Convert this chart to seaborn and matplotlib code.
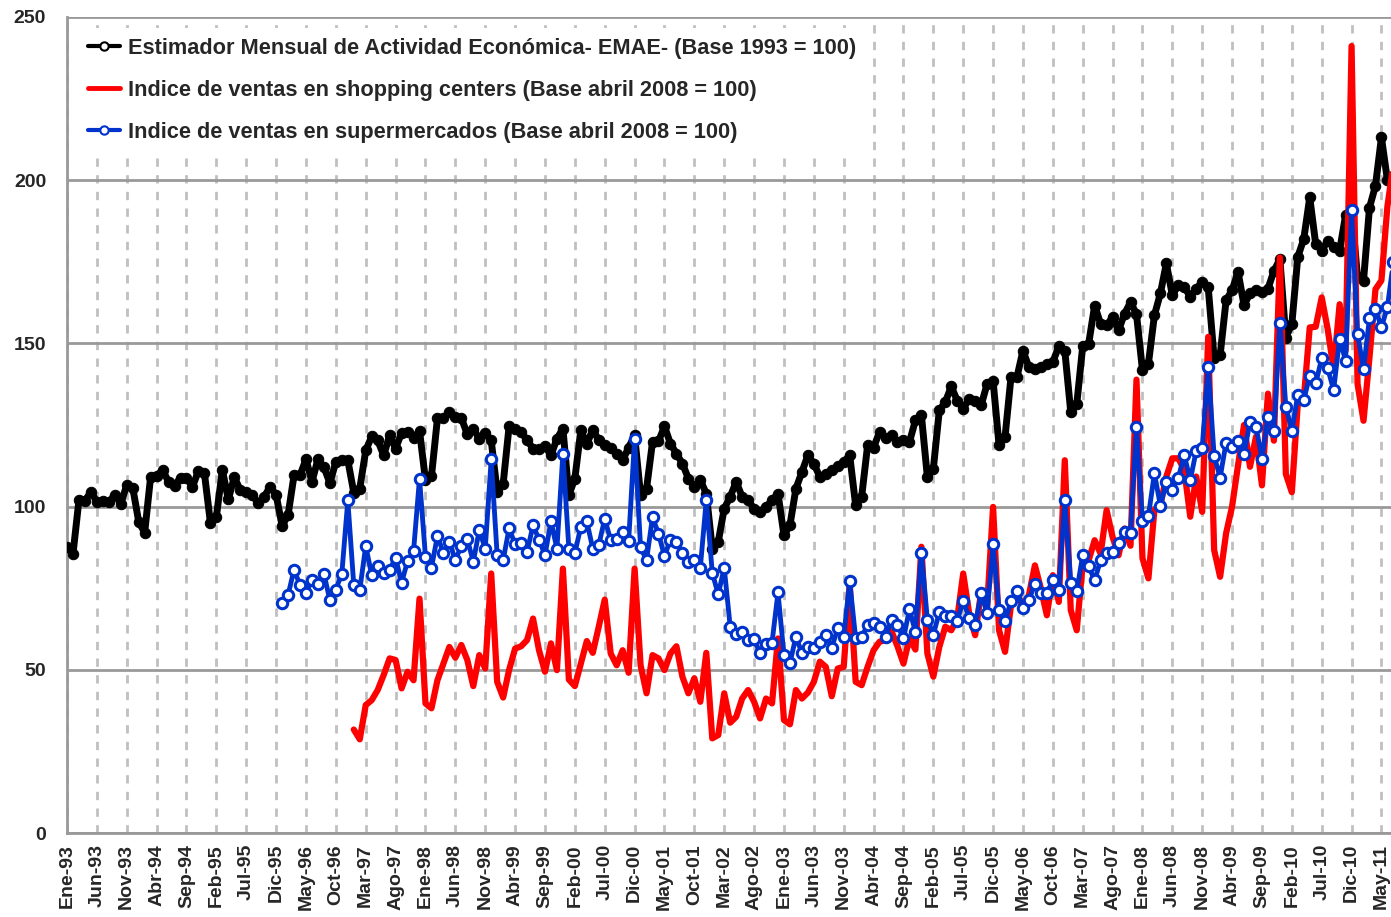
import pandas as pd
import seaborn as sns
import matplotlib.pyplot as plt
from matplotlib.lines import Line2D

# EMAE (Base 1993 = 100), monthly from Ene-93
emae = [87.7, 85.5, 102, 101.8, 104.5, 101.5, 101.8, 101.3, 103.7, 100.8,
        106.6, 105.8, 95.4, 92, 109.2, 109.5, 111.2, 107.6, 106.4, 108.9,
        108.7, 106.1, 110.9, 110.2, 95.1, 96.9, 111.2, 102.2, 109, 105.1,
        104.6, 103.6, 101, 103, 106.1, 103.6, 94.1, 97.4, 109.6, 109.6,
        114.5, 107.6, 114.5, 112.1, 107.2, 113.7, 114.2, 114.2, 104.3, 105.5,
        117.2, 121.5, 120.3, 115.7, 121.8, 117.8, 122.6, 122.9, 121.1, 123.2,
        108.1, 109.3, 127, 127, 129, 127.5, 127.2, 122.1, 123.9, 120.8,
        122.4, 120.3, 104.5, 107, 124.7, 123.9, 122.9, 120.3, 117.8, 117.8,
        118.5, 115.7, 120.8, 123.9, 103.5, 108.6, 123.4, 119.1, 123.6, 120.3,
        118.8, 118.1, 116.2, 114.2, 118.1, 121.8, 103.5, 105.5, 119.8, 120,
        124.6, 119.3, 116.2, 113.2, 108.6, 106, 108.1, 104, 87.1, 89.2,
        99.4, 103, 107.6, 103, 101.9, 99.4, 98.4, 99.9, 101.9, 104,
        91.2, 94.3, 105.5, 110.6, 115.7, 113.2, 109.1, 110.1, 111.1, 112.4,
        113.7, 115.7, 100.4, 103, 118.8, 118.1, 122.9, 121.1, 121.8, 119.8,
        120.3, 119.8, 126.4, 128, 109.1, 111.6, 129.5, 132, 136.8, 132.5,
        130, 133.1, 132.5, 131, 137.6, 138.5, 118.8, 121.3, 139.7, 139.7,
        147.8, 142.7, 142.2, 142.7, 143.6, 144.3, 149.1, 147.8, 129, 131.3,
        149.1, 149.9, 161.6, 156, 155.5, 158.1, 154, 159.1, 162.6, 159,
        141.8, 143.8, 158.6, 165.3, 174.5, 164.8, 167.8, 167.3, 164.3, 166.8,
        168.8, 167.3, 145.4, 146.4, 163.2, 166.3, 171.9, 161.7, 165.3, 166.3,
        165.7, 166.7, 172.2, 175.8, 151.8, 155.9, 176.5, 182, 194.7, 180.4,
        178.4, 181.4, 179.4, 178.4, 189.3, 191, 170.2, 169.2, 191.6, 198.3,
        213.1, 200, 197]

# Shopping centers (Base abril 2008 = 100), from Ene-97
shopping = [31.7, 28.7, 39.2, 40.7, 43.8, 48.4, 53.5, 53, 44.3, 49.4,
            46.8, 71.8, 39.7, 38.2, 46.8, 51.9, 57, 53.7, 57.6, 53,
            45, 54.5, 50.4, 79.5, 46.3, 41.5, 50, 56.5, 57.2, 59.1,
            65.7, 56, 49.4, 58.1, 49.9, 81, 47, 45, 51.9, 58.8,
            55.2, 63.2, 71.5, 55, 51.4, 56, 49.1, 81, 51.4, 42.8,
            54.5, 53.5, 49.9, 55, 57.2, 47.9, 42.8, 47.4, 40.2, 55.2,
            29, 30, 42.8, 33.8, 35.6, 41.2, 43.8, 40.2, 35.1, 41.2,
            39.7, 59.6, 34.6, 33.3, 43.8, 41.2, 43, 46.3, 52.5, 50.9,
            41.9, 50.4, 50.9, 76.4, 46.3, 45.3, 50.9, 56, 58.6, 59.1,
            61.8, 57.2, 51.9, 59.6, 56.2, 87.7, 55, 47.9, 57, 63.2,
            62.1, 65.7, 79.5, 67.2, 60.6, 73.9, 69.3, 99.9, 62.1, 55.5,
            69.8, 73.4, 69.3, 72.9, 82, 74.9, 66.7, 79, 70.8, 114.2,
            68.3, 62.1, 82.5, 83.6, 89.7, 85.6, 98.9, 90.7, 85.1, 93.3,
            88, 138.9, 84.2, 78, 99, 100.5, 109.2, 114.8, 114.8, 111.2,
            96.9, 109.2, 98.4, 152, 86.7, 78.5, 91.8, 100, 112.7, 125,
            112.2, 121.4, 106.5, 134.6, 120.2, 176.3, 110, 104.4, 131.4, 133,
            154.9, 155.1, 164.1, 154.4, 142.1, 162, 147.8, 241.1, 137.6, 126.3,
            145.7, 166.6, 169.3, 192, 205]

# Supermercados (Base abril 2008 = 100), from Ene-96
supermercados = [70.5, 72.9, 80.7, 75.9, 73.6, 77.5, 76.4, 79.5, 71.3, 74.6,
                 79.5, 101.9, 75.9, 74.4, 88, 79, 81.7, 79.8, 80.7, 84.3,
                 76.7, 83.3, 86.3, 108.6, 84.6, 81.3, 91, 85.8, 89.2, 83.6,
                 88, 90, 83.1, 92.8, 87.1, 114.5, 85.1, 83.6, 93.4, 88.4,
                 88.7, 86.1, 94.3, 89.9, 85.1, 95.5, 87.1, 116.2, 87.1, 85.8,
                 93.8, 95.5, 87.1, 88.2, 96.3, 89.7, 90.2, 92.2, 89.4, 120.8,
                 87.5, 83.6, 96.8, 91.7, 84.8, 89.9, 89.2, 85.8, 83.1, 83.6,
                 81.3, 102.1, 79.7, 73.1, 81.3, 63.2, 61.1, 61.6, 59.1, 59.3,
                 55.2, 57.8, 58.3, 73.7, 54.5, 52.1, 60.1, 55.2, 57, 56.8,
                 58.6, 60.8, 56.8, 62.7, 60.1, 77.1, 59.6, 60.1, 63.7, 64.4,
                 63.2, 60.1, 65.2, 63.7, 59.6, 68.5, 61.6, 85.9, 65.4, 60.8,
                 67.6, 66.5, 66.4, 65, 71.1, 66, 63.7, 73.4, 67.4, 88.4,
                 68.3, 64.9, 71, 74.2, 69, 71.3, 76.4, 73.6, 73.6, 77.4,
                 74.4, 102.1, 76.6, 74.1, 85.1, 81.7, 77.4, 83.6, 85.8, 86.1,
                 88.7, 92.2, 91.9, 124.5, 95.6, 97.1, 110.2, 100.3, 107.4, 105.1,
                 108.8, 115.8, 108.1, 117.1, 118, 142.8, 115.5, 108.9, 119.6, 118.3,
                 120.1, 116.1, 126, 124.5, 114.7, 127.5, 123.3, 156.4, 130.6, 123.3,
                 134.2, 132.7, 140.1, 137.8, 145.4, 142.4, 135.7, 151.5, 144.7, 190.8,
                 152.9, 142.1, 157.8, 160.5, 154.9, 161.2, 175]

start_super = 36
start_shop = 48

tick_labels = ['Ene-93', 'Jun-93', 'Nov-93', 'Abr-94', 'Sep-94', 'Feb-95', 'Jul-95',
               'Dic-95', 'May-96', 'Oct-96', 'Mar-97', 'Ago-97', 'Ene-98', 'Jun-98',
               'Nov-98', 'Abr-99', 'Sep-99', 'Feb-00', 'Jul-00', 'Dic-00', 'May-01',
               'Oct-01', 'Mar-02', 'Ago-02', 'Ene-03', 'Jun-03', 'Nov-03', 'Abr-04',
               'Sep-04', 'Feb-05', 'Jul-05', 'Dic-05', 'May-06', 'Oct-06', 'Mar-07',
               'Ago-07', 'Ene-08', 'Jun-08', 'Nov-08', 'Abr-09', 'Sep-09', 'Feb-10',
               'Jul-10', 'Dic-10', 'May-11']

labels = ['Estimador Mensual de Actividad Económica- EMAE- (Base 1993 = 100)',
          'Indice de ventas en shopping centers (Base abril 2008 = 100)',
          'Indice de ventas en supermercados (Base abril 2008 = 100)']

df_emae = pd.DataFrame({'mes': range(len(emae)), 'valor': emae})
df_shop = pd.DataFrame({'mes': range(start_shop, start_shop + len(shopping)), 'valor': shopping})
df_super = pd.DataFrame({'mes': range(start_super, start_super + len(supermercados)),
                         'valor': supermercados})

sns.set_theme(style='white')
plt.rcParams['font.family'] = ['Liberation Sans', 'DejaVu Sans']

black = '#000000'
red = '#FF0000'
blue = '#0033CC'

fig = plt.figure(figsize=(13.91, 9.17), dpi=100)
ax = fig.add_axes([67 / 1391, 84 / 917, 1 - 67 / 1391, 816 / 917])

sns.lineplot(data=df_emae, x='mes', y='valor', ax=ax, color=black, lw=5,
             marker='o', markersize=7.5, markerfacecolor=black, markeredgecolor=black,
             zorder=3)
sns.lineplot(data=df_shop, x='mes', y='valor', ax=ax, color=red, lw=4.5, zorder=4)
sns.lineplot(data=df_super, x='mes', y='valor', ax=ax, color=blue, lw=3.5,
             marker='o', markersize=7.5, markerfacecolor='white', markeredgecolor=blue,
             markeredgewidth=2.2, zorder=5)

ax.set_xlim(0, 221.6)
ax.set_ylim(0, 250)
ax.set_xticks(range(0, 5 * len(tick_labels), 5))
ax.set_xticklabels(tick_labels, rotation=90, fontsize=14, fontweight='bold')
ax.set_yticks(range(0, 251, 50))
ax.set_yticklabels([str(v) for v in range(0, 251, 50)], fontsize=14, fontweight='bold')
ax.set_xlabel('')
ax.set_ylabel('')

ax.yaxis.grid(True, color='#999999', lw=2, ls='-')
ax.xaxis.grid(True, color='#c0c0c0', lw=2, ls=(0, (3, 3)))
ax.set_axisbelow(True)

for s in ['top', 'right']:
    ax.spines[s].set_visible(False)
for s in ['left', 'bottom']:
    ax.spines[s].set_color('#999999')
    ax.spines[s].set_linewidth(2)
ax.tick_params(axis='x', length=5, width=1.5, color='#999999', pad=3)
ax.tick_params(axis='y', length=0, pad=15)

handles = [
    Line2D([], [], color=black, lw=3, marker='o', ms=6, mfc='white', mec=black, mew=1.5),
    Line2D([], [], color=red, lw=3.5),
    Line2D([], [], color=blue, lw=3, marker='o', ms=6, mfc='white', mec=blue, mew=1.5),
]
leg = ax.legend(handles, labels, loc='upper left', bbox_to_anchor=(0.0, 1.0),
                prop={'weight': 'bold', 'size': 15.7}, frameon=True, facecolor='white',
                edgecolor='none', framealpha=1, fancybox=False, handlelength=1.45,
                handletextpad=0.4, labelspacing=0.96, borderpad=0.46)
leg.set_zorder(10)

fig.savefig('out.png', dpi=100)
